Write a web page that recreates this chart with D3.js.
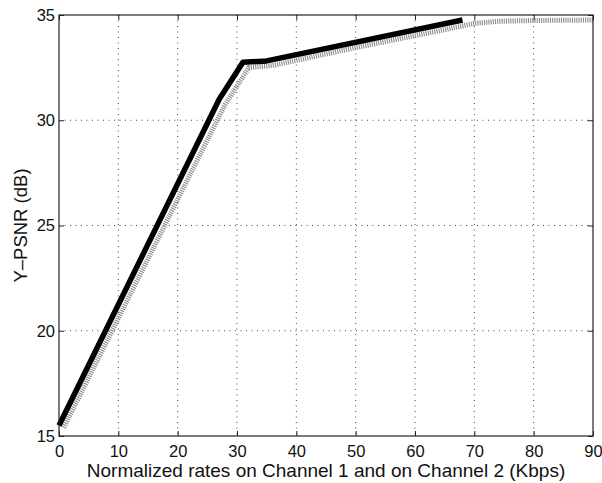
<!DOCTYPE html>
<html>
<head>
<meta charset="utf-8">
<script src="https://cdn.jsdelivr.net/npm/d3@7"></script>
<style>
    body { margin: 0; background: #fff; }
    svg text { font-family: "Liberation Sans", Arial, Helvetica, sans-serif; fill: #111; }
    .grid line { stroke: #333; stroke-width: 0.9; stroke-dasharray: 1 4.5; }
</style>
</head>
<body>
<div id="chart"></div>
<script>
//rates (Kbps) and Y-PSNR (dB) for the thick black curve
var blackRates = [0, 27, 31, 35, 68];
var blackPsnr = [15.5, 31.0, 32.75, 32.82, 34.76];

//rates and Y-PSNR for the grey marker curve
var greyRates = [0.8, 28, 32, 36, 50, 60, 66, 70, 74, 80, 90];
var greyPsnr = [15.4, 30.75, 32.5, 32.6, 33.45, 34.02, 34.36, 34.6, 34.7, 34.74, 34.76];

//tick values
var xTicks = [0, 10, 20, 30, 40, 50, 60, 70, 80, 90];
var yTicks = [15, 20, 25, 30, 35];

function init() {

    //width and height
    var w = 602;
    var h = 483;
    var left = 59, top = 15, right = 593, bottom = 436;

    var xScale = d3.scaleLinear().domain([0, 90]).range([left, right]);
    var yScale = d3.scaleLinear().domain([15, 35]).range([bottom, top]);

    var svg = d3.select("#chart")
        .append("svg")
        .attr("width", w)
        .attr("height", h);

    //dotted grid
    var grid = svg.append("g").attr("class", "grid");
    grid.selectAll(".vx")
        .data(xTicks.slice(1, -1))
        .enter().append("line")
        .attr("x1", function (d) { return xScale(d); })
        .attr("x2", function (d) { return xScale(d); })
        .attr("y1", top)
        .attr("y2", bottom);
    grid.selectAll(".hy")
        .data(yTicks.slice(1, -1))
        .enter().append("line")
        .attr("x1", left)
        .attr("x2", right)
        .attr("y1", function (d) { return yScale(d); })
        .attr("y2", function (d) { return yScale(d); });

    var line = d3.line()
        .x(function (d) { return xScale(d[0]); })
        .y(function (d) { return yScale(d[1]); });

    var greyData = greyRates.map(function (r, i) { return [r, greyPsnr[i]]; });
    var blackData = blackRates.map(function (r, i) { return [r, blackPsnr[i]]; });

    //grey curve drawn as a dense run of small marks
    svg.append("path")
        .datum(greyData)
        .attr("d", line)
        .attr("fill", "none")
        .attr("stroke", "#8c8c8c")
        .attr("stroke-width", 5)
        .attr("stroke-dasharray", "1.1 1.1");

    //black curve
    svg.append("path")
        .datum(blackData)
        .attr("d", line)
        .attr("fill", "none")
        .attr("stroke", "#000")
        .attr("stroke-width", 5.5)
        .attr("stroke-linejoin", "round");

    //axes with inward ticks, MATLAB style
    var xAxis = d3.axisBottom(xScale).tickValues(xTicks).tickSize(-5).tickPadding(9).tickSizeOuter(0);
    var yAxis = d3.axisLeft(yScale).tickValues(yTicks).tickSize(-5).tickPadding(4).tickSizeOuter(0);
    var xTop = d3.axisTop(xScale).tickValues(xTicks).tickSize(-5).tickFormat("").tickSizeOuter(0);
    var yRight = d3.axisRight(yScale).tickValues(yTicks).tickSize(-5).tickFormat("").tickSizeOuter(0);

    var gx = svg.append("g").attr("transform", "translate(0," + bottom + ")").call(xAxis);
    var gy = svg.append("g").attr("transform", "translate(" + left + ",0)").call(yAxis);
    svg.append("g").attr("transform", "translate(0," + top + ")").call(xTop).selectAll("text").remove();
    svg.append("g").attr("transform", "translate(" + right + ",0)").call(yRight).selectAll("text").remove();

    svg.selectAll(".domain").remove();
    svg.selectAll(".tick line").attr("stroke", "#222");
    gx.selectAll("text").attr("font-size", 16.5).attr("fill", "#111");
    gy.selectAll("text").attr("font-size", 16.5).attr("fill", "#111");

    //plot box
    svg.append("rect")
        .attr("x", left)
        .attr("y", top)
        .attr("width", right - left)
        .attr("height", bottom - top)
        .attr("fill", "none")
        .attr("stroke", "#222")
        .attr("stroke-width", 1.2);

    //axis labels
    svg.append("text")
        .attr("x", (left + right) / 2)
        .attr("y", 477)
        .attr("text-anchor", "middle")
        .attr("font-size", 19)
        .text("Normalized rates on Channel 1 and on Channel 2 (Kbps)");

    svg.append("text")
        .attr("transform", "translate(26.5," + (top + bottom) / 2 + ") rotate(-90)")
        .attr("text-anchor", "middle")
        .attr("font-size", 18.5)
        .text("Y\u2013PSNR (dB)");
}

window.onload = init;
</script>
</body>
</html>
